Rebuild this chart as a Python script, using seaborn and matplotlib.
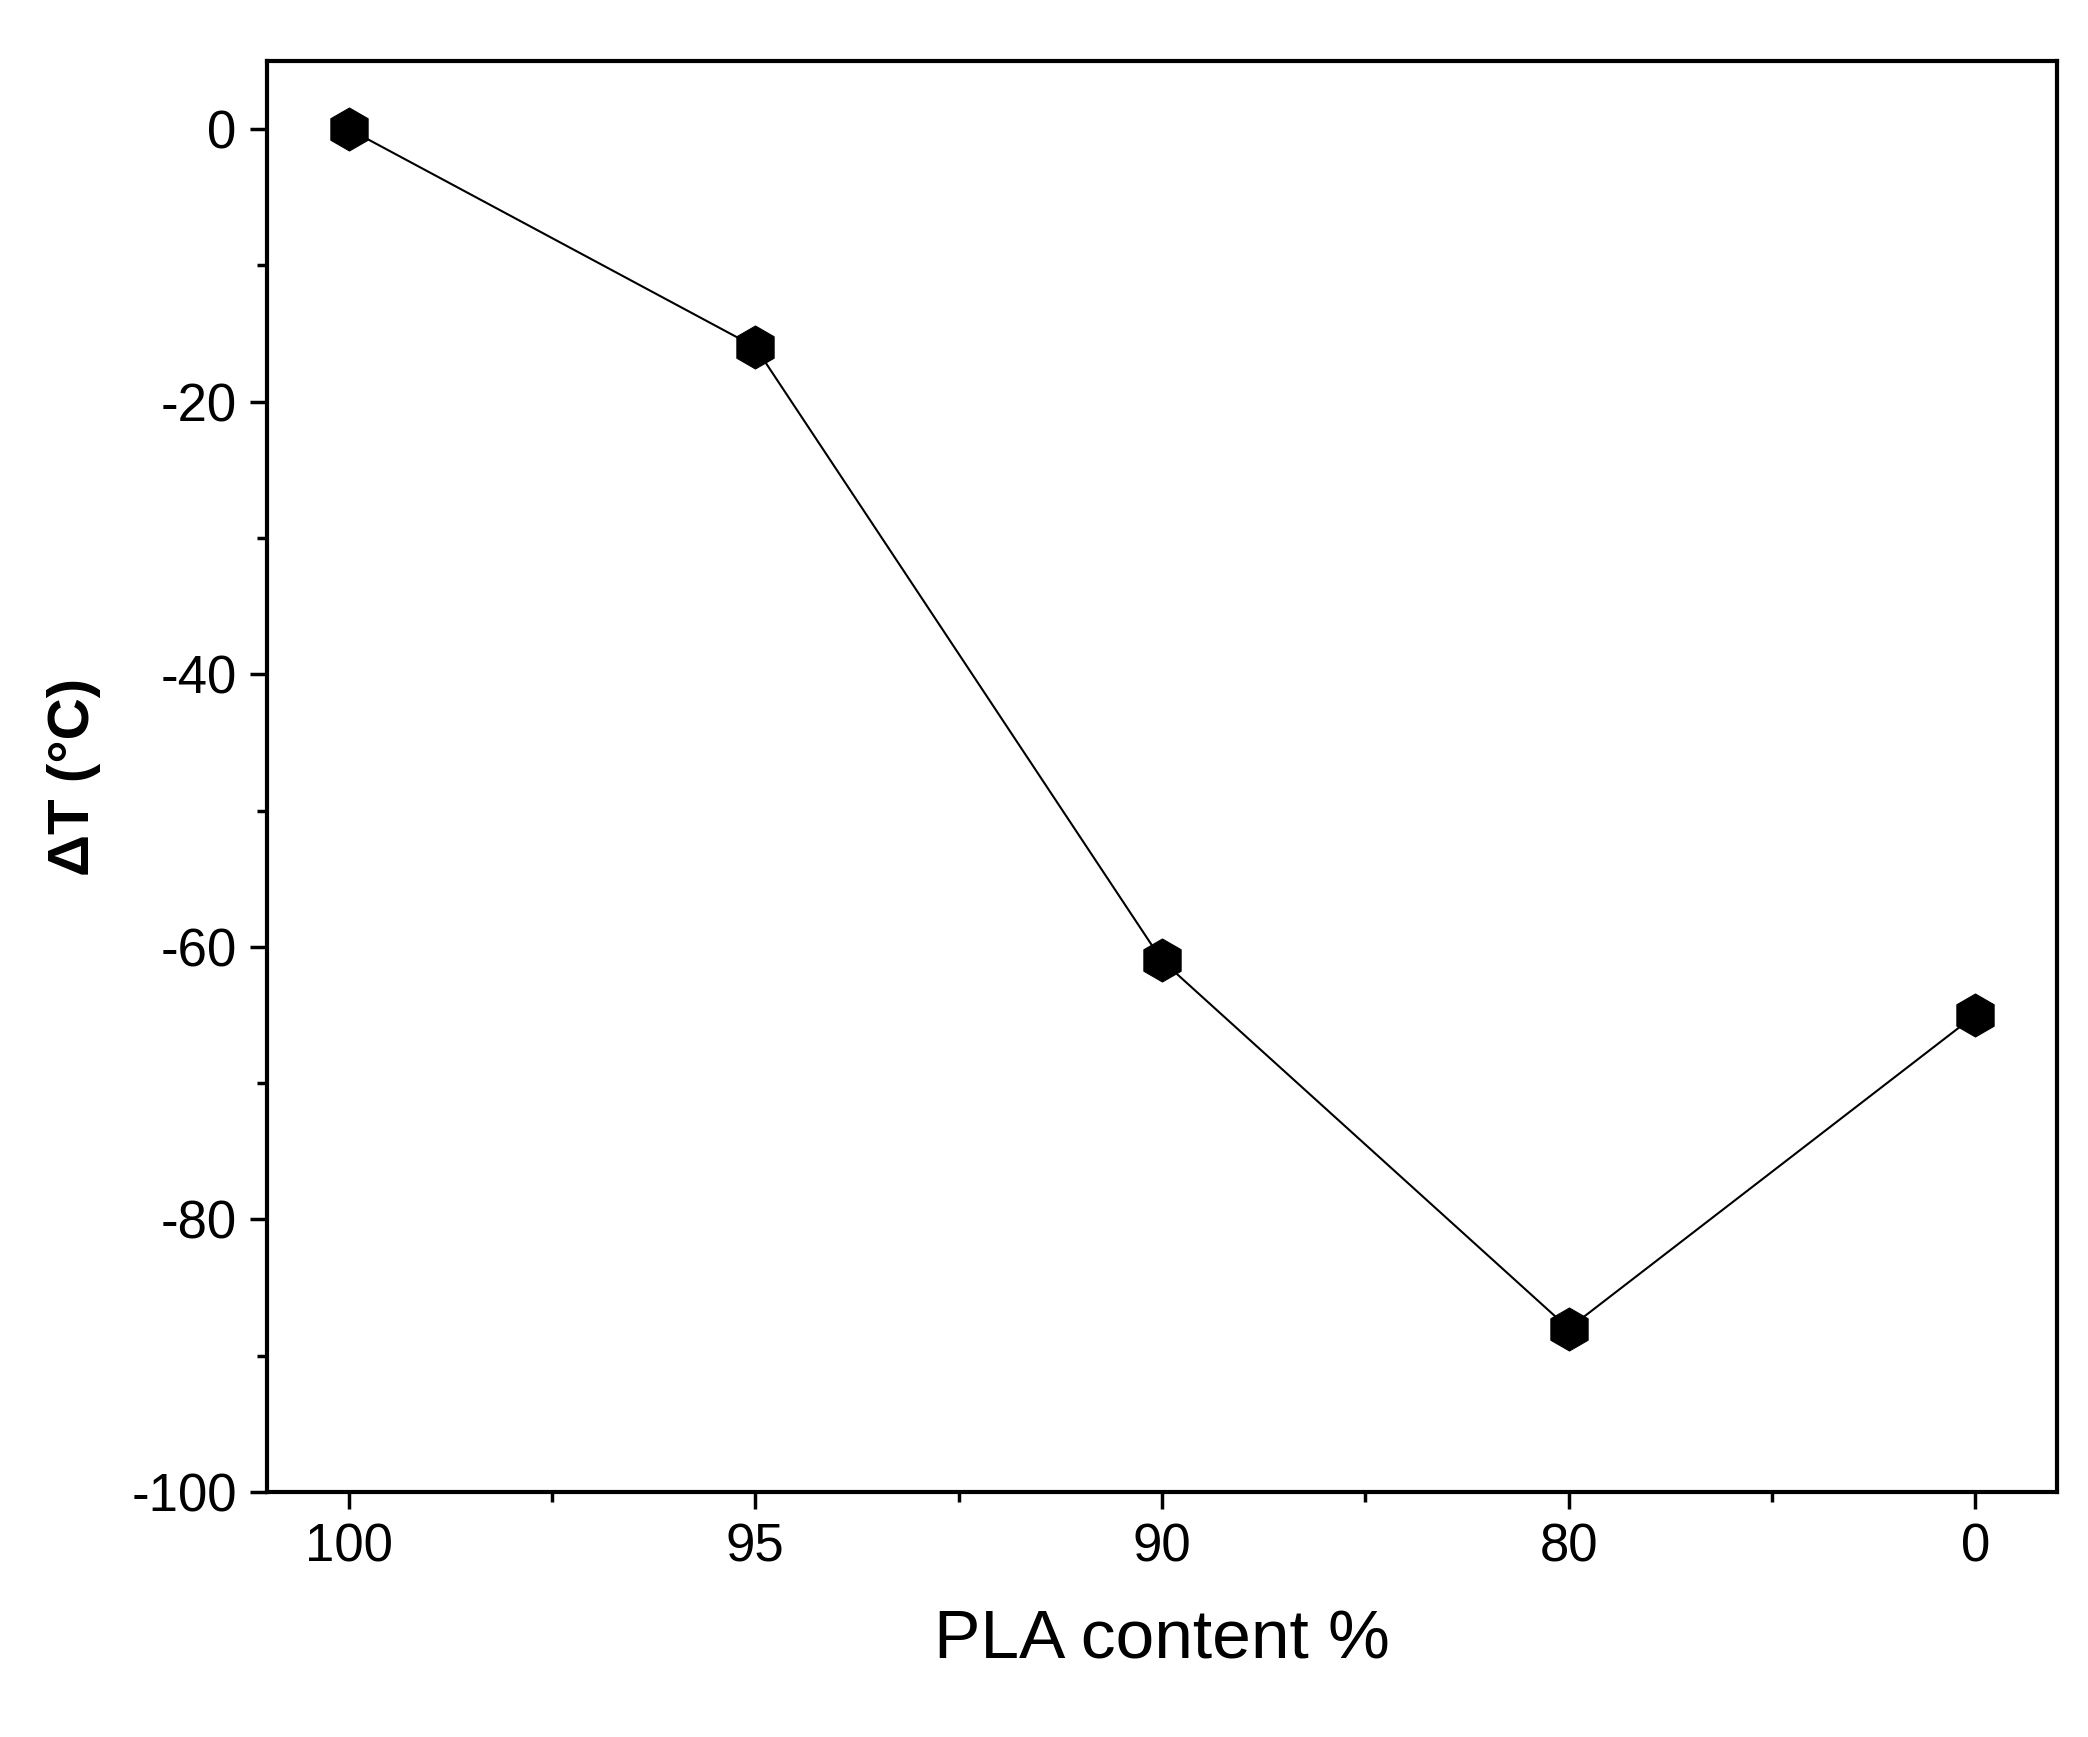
import matplotlib
matplotlib.use("Agg")
import matplotlib.pyplot as plt
import seaborn as sns
import pandas as pd
from matplotlib.ticker import MultipleLocator

pla_content = ["100", "95", "90", "80", "0"]
delta_t = [0, -16, -61, -88, -65]

sns.set_style("ticks")
plt.rcParams['font.family'] = ['Liberation Sans', 'DejaVu Sans']
plt.rcParams['axes.unicode_minus'] = False
plt.rcParams['text.color'] = 'black'
plt.rcParams['axes.labelcolor'] = 'black'
plt.rcParams['xtick.color'] = 'black'
plt.rcParams['ytick.color'] = 'black'
plt.rcParams['axes.edgecolor'] = 'black'

df = pd.DataFrame({"pos": range(len(pla_content)), "dT": delta_t})

fig = plt.figure(figsize=(20.88, 17.37), dpi=100)
ax = fig.add_axes([0.128, 0.141, 0.857, 0.824])
sns.lineplot(x="pos", y="dT", data=df, color="black", linewidth=1.5,
             marker="h", markersize=31, markeredgecolor="black", ax=ax)

ax.set_xlim(-0.2, 4.2)
ax.set_ylim(-100, 5)
ax.set_xticks(range(len(pla_content)))
ax.set_xticklabels(pla_content)
ax.xaxis.set_minor_locator(MultipleLocator(0.5))
ax.yaxis.set_major_locator(MultipleLocator(20))
ax.yaxis.set_minor_locator(MultipleLocator(10))
ax.tick_params(axis="both", which="major", direction="out", length=12, width=2.5,
               labelsize=38, pad=10)
ax.tick_params(axis="both", which="minor", direction="out", length=7, width=2.5)
for s in ax.spines.values():
    s.set_linewidth(3)
ax.set_xlabel("PLA content %", fontsize=50, labelpad=26)
ax.set_ylabel("ΔT (°C)", fontsize=42, fontweight="bold", labelpad=22)

fig.savefig("out.png", dpi=100)
